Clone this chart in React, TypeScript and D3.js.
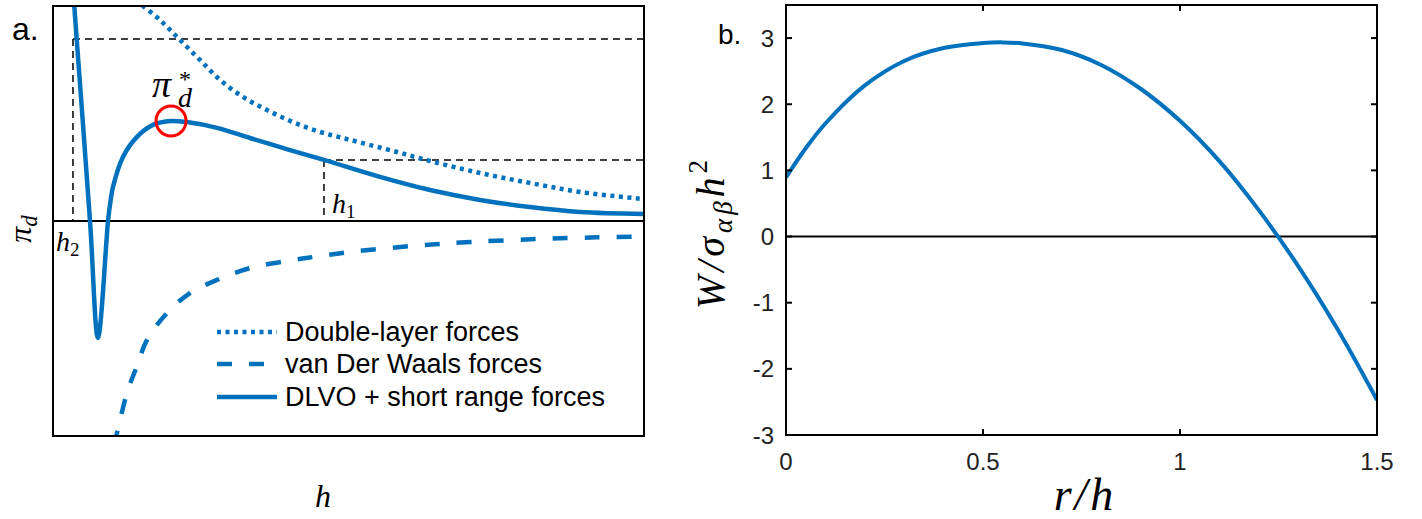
import React, { useEffect } from 'react';
import * as d3 from 'd3';

const BLUE = '#0072BD';

// ---------- Panel a data (h normalized 0..1, pi_d normalized -1..1) ----------
const dlvoH = [0.0352, 0.0626, 0.0761, 0.0931, 0.0964, 0.1015, 0.1184, 0.1421, 0.1692, 0.1997, 0.2267, 0.2775, 0.3333, 0.401, 0.4585, 0.5533, 0.6379, 0.7225, 0.8071, 0.8917, 1.0];
const dlvoPi = [1.028, 0, -0.544, 0, 0.074, 0.158, 0.298, 0.391, 0.447, 0.465, 0.46, 0.433, 0.386, 0.33, 0.284, 0.205, 0.144, 0.098, 0.065, 0.042, 0.033];

const doubleLayerH = [0.1404, 0.1523, 0.181, 0.2149, 0.2487, 0.2826, 0.3215, 0.3621, 0.4061, 0.4518, 0.4975, 0.5821, 0.6379, 0.7225, 0.8071, 0.8917, 1.0];
const doubleLayerPi = [1.028, 1.0, 0.935, 0.842, 0.749, 0.656, 0.577, 0.516, 0.46, 0.414, 0.381, 0.321, 0.279, 0.223, 0.177, 0.135, 0.102];

const vdwH = [0.1032, 0.1083, 0.1252, 0.1421, 0.1591, 0.1929, 0.2318, 0.2775, 0.3333, 0.3959, 0.4467, 0.5025, 0.6091, 0.7056, 0.819, 0.9205, 1.0];
const vdwPi = [-1.042, -0.986, -0.8, -0.674, -0.553, -0.428, -0.335, -0.274, -0.219, -0.186, -0.165, -0.144, -0.116, -0.098, -0.084, -0.076, -0.072];

const h2Value = 0.0338;
const h2Level = 0.847;
const h1Value = 0.4585;
const h1Level = 0.284;
const peakH = 0.1997;
const peakPi = 0.465;

const legendLabels = ['Double-layer forces', 'van Der Waals forces', 'DLVO + short range forces'];

// ---------- Panel b data ----------
const rOverH = [0, 0.05, 0.1, 0.2, 0.3, 0.4, 0.5, 0.55, 0.6, 0.7, 0.8, 0.9, 1.0, 1.1, 1.2, 1.3, 1.4, 1.5];
const wNorm = [0.894, 1.334, 1.709, 2.284, 2.654, 2.849, 2.924, 2.935, 2.919, 2.819, 2.594, 2.234, 1.749, 1.139, 0.399, -0.446, -1.401, -2.47];

const xTicksB = [0, 0.5, 1, 1.5];
const xTickLabelsB = ['0', '0.5', '1', '1.5'];
const yTicksB = [-3, -2, -1, 0, 1, 2, 3];

type P = [number, number];

export default function App() {
  useEffect(() => {
    document.body.style.margin = '0';
  }, []);

  // Panel a scales
  const ax = d3.scaleLinear().domain([0, 1]).range([53, 644]);
  const ay = d3.scaleLinear().domain([-1, 1]).range([436, 6]);

  const lineA = d3
    .line<P>()
    .x((d) => ax(d[0]))
    .y((d) => ay(d[1]))
    .curve(d3.curveCatmullRom.alpha(0.5));

  const dlvo: P[] = dlvoH.map((h, i) => [h, dlvoPi[i]]);
  const dl: P[] = doubleLayerH.map((h, i) => [h, doubleLayerPi[i]]);
  const vdw: P[] = vdwH.map((h, i) => [h, vdwPi[i]]);

  // Panel b scales
  const bx = d3.scaleLinear().domain([0, 1.5]).range([786, 1377]);
  const by = d3.scaleLinear().domain([-3, 3.5]).range([435, 5]);
  const lineB = d3
    .line<P>()
    .x((d) => bx(d[0]))
    .y((d) => by(d[1]))
    .curve(d3.curveCatmullRom.alpha(0.5));
  const wData: P[] = rOverH.map((r, i) => [r, wNorm[i]]);

  const tickLen = 6;
  const mathFont = "'Liberation Serif', 'DejaVu Serif', serif";
  const sansFont = "'Liberation Sans', Arial, Helvetica, sans-serif";

  const legendX0 = 217;
  const legendX1 = 277;
  const legendRows = [332, 364, 397];
  const legendDash = ['4,4.5', '15,17', 'none'];

  const cx = ax(peakH);
  const cy = ay(peakPi);

  return (
    <svg width={1422} height={519} style={{ display: 'block', position: 'absolute', left: 0, top: 0, background: '#fff' }}>
      <defs>
        <clipPath id="clipA">
          <rect x={ax(0)} y={ay(1)} width={ax(1) - ax(0)} height={ay(-1) - ay(1)} />
        </clipPath>
        <clipPath id="clipB">
          <rect x={bx(0)} y={by(3.5)} width={bx(1.5) - bx(0)} height={by(-3) - by(3.5)} />
        </clipPath>
      </defs>

      {/* ================= Panel a ================= */}
      <text x={12} y={40} fontFamily={sansFont} fontSize={32} fill="#000">a.</text>

      {/* reference dashed lines */}
      <g stroke="#000" strokeWidth={1.5} strokeDasharray="7,5" fill="none">
        <line x1={ax(h2Value)} x2={ax(1)} y1={ay(h2Level)} y2={ay(h2Level)} />
        <line x1={ax(h2Value)} x2={ax(h2Value)} y1={ay(h2Level)} y2={ay(0)} />
        <line x1={ax(h1Value)} x2={ax(1)} y1={ay(h1Level)} y2={ay(h1Level)} />
        <line x1={ax(h1Value)} x2={ax(h1Value)} y1={ay(h1Level)} y2={ay(0)} />
      </g>

      {/* zero line */}
      <line x1={ax(0)} x2={ax(1)} y1={ay(0)} y2={ay(0)} stroke="#000" strokeWidth={2} />

      <g clipPath="url(#clipA)" fill="none" stroke={BLUE}>
        <path d={lineA(dl) || ''} strokeWidth={4.5} strokeDasharray="4,4.5" />
        <path d={lineA(vdw) || ''} strokeWidth={4.5} strokeDasharray="15,17" />
        <path d={lineA(dlvo) || ''} strokeWidth={4.5} strokeLinejoin="miter" />
      </g>

      {/* peak circle */}
      <circle cx={cx} cy={cy} r={15} fill="none" stroke="#FF0000" strokeWidth={3} />

      {/* pi_d^* label */}
      <text x={cx - 19} y={cy - 24} fontFamily={mathFont} fontStyle="italic" fontSize={38} fill="#000">
        π
        <tspan x={cx + 8} y={cy - 34} fontStyle="normal" fontSize={24}>*</tspan>
        <tspan x={cx + 7} y={cy - 14} fontSize={28}>d</tspan>
      </text>

      {/* h1 / h2 labels */}
      <text x={ax(h1Value) + 8} y={ay(0) - 8} fontFamily={mathFont} fontStyle="italic" fontSize={28} fill="#000">
        h<tspan fontStyle="normal" fontSize={19} dy={5}>1</tspan>
      </text>
      <text x={ax(0) + 3} y={ay(0) + 30} fontFamily={mathFont} fontStyle="italic" fontSize={28} fill="#000">
        h<tspan fontStyle="normal" fontSize={19} dy={5}>2</tspan>
      </text>

      {/* box */}
      <rect x={ax(0)} y={ay(1)} width={ax(1) - ax(0)} height={ay(-1) - ay(1)} fill="none" stroke="#000" strokeWidth={2} />

      {/* legend */}
      {legendLabels.map((lab, i) => (
        <g key={lab}>
          <line
            x1={legendX0}
            x2={legendX1}
            y1={legendRows[i]}
            y2={legendRows[i]}
            stroke={BLUE}
            strokeWidth={4.5}
            strokeDasharray={legendDash[i]}
          />
          <text x={285} y={legendRows[i]} dominantBaseline="central" fontFamily={sansFont} fontSize={27} fill="#000">
            {lab}
          </text>
        </g>
      ))}

      {/* axis labels a */}
      <text
        transform={`translate(31, ${ay(0) + 8}) rotate(-90)`}
        textAnchor="middle"
        fontFamily={mathFont}
        fontStyle="italic"
        fontSize={32}
        fill="#000"
      >
        π<tspan fontSize={23} dy={6}>d</tspan>
      </text>
      <text x={323} y={507} textAnchor="middle" fontFamily={mathFont} fontStyle="italic" fontSize={32} fill="#000">
        h
      </text>

      {/* ================= Panel b ================= */}
      <text x={718} y={44} fontFamily={sansFont} fontSize={28} fill="#000">b.</text>

      <line x1={bx(0)} x2={bx(1.5)} y1={by(0)} y2={by(0)} stroke="#000" strokeWidth={2} />

      <g clipPath="url(#clipB)">
        <path d={lineB(wData) || ''} fill="none" stroke={BLUE} strokeWidth={4} />
      </g>

      {/* ticks */}
      <g stroke="#000" strokeWidth={2}>
        {xTicksB.map((t) => (
          <g key={'xt' + t}>
            <line x1={bx(t)} x2={bx(t)} y1={by(-3)} y2={by(-3) - tickLen} />
            <line x1={bx(t)} x2={bx(t)} y1={by(3.5)} y2={by(3.5) + tickLen} />
          </g>
        ))}
        {yTicksB.map((t) => (
          <g key={'yt' + t}>
            <line x1={bx(0)} x2={bx(0) + tickLen} y1={by(t)} y2={by(t)} />
            <line x1={bx(1.5)} x2={bx(1.5) - tickLen} y1={by(t)} y2={by(t)} />
          </g>
        ))}
      </g>

      <rect x={bx(0)} y={by(3.5)} width={bx(1.5) - bx(0)} height={by(-3) - by(3.5)} fill="none" stroke="#000" strokeWidth={2} />

      {xTicksB.map((t, i) => (
        <text key={'xl' + t} x={bx(t)} y={470} textAnchor="middle" fontFamily={sansFont} fontSize={24} fill="#222">
          {xTickLabelsB[i]}
        </text>
      ))}
      {yTicksB.map((t) => (
        <text key={'yl' + t} x={774} y={by(t)} textAnchor="end" dominantBaseline="central" fontFamily={sansFont} fontSize={24} fill="#222">
          {t < 0 ? '-' + Math.abs(t) : String(t)}
        </text>
      ))}

      {/* axis labels b */}
      <text
        transform={`translate(724, ${by(0) - 4}) rotate(-90)`}
        textAnchor="middle"
        fontFamily={mathFont}
        fontStyle="italic"
        fontSize={40}
        letterSpacing={4}
        fill="#000"
      >
        W/σ<tspan fontSize={27} dy={8}>αβ</tspan>
        <tspan dy={-8}>h</tspan>
        <tspan fontStyle="normal" fontSize={27} dy={-17}>2</tspan>
      </text>
      <text x={1085} y={510} textAnchor="middle" fontFamily={mathFont} fontStyle="italic" fontSize={46} letterSpacing={3} fill="#000">
        r/h
      </text>
    </svg>
  );
}
